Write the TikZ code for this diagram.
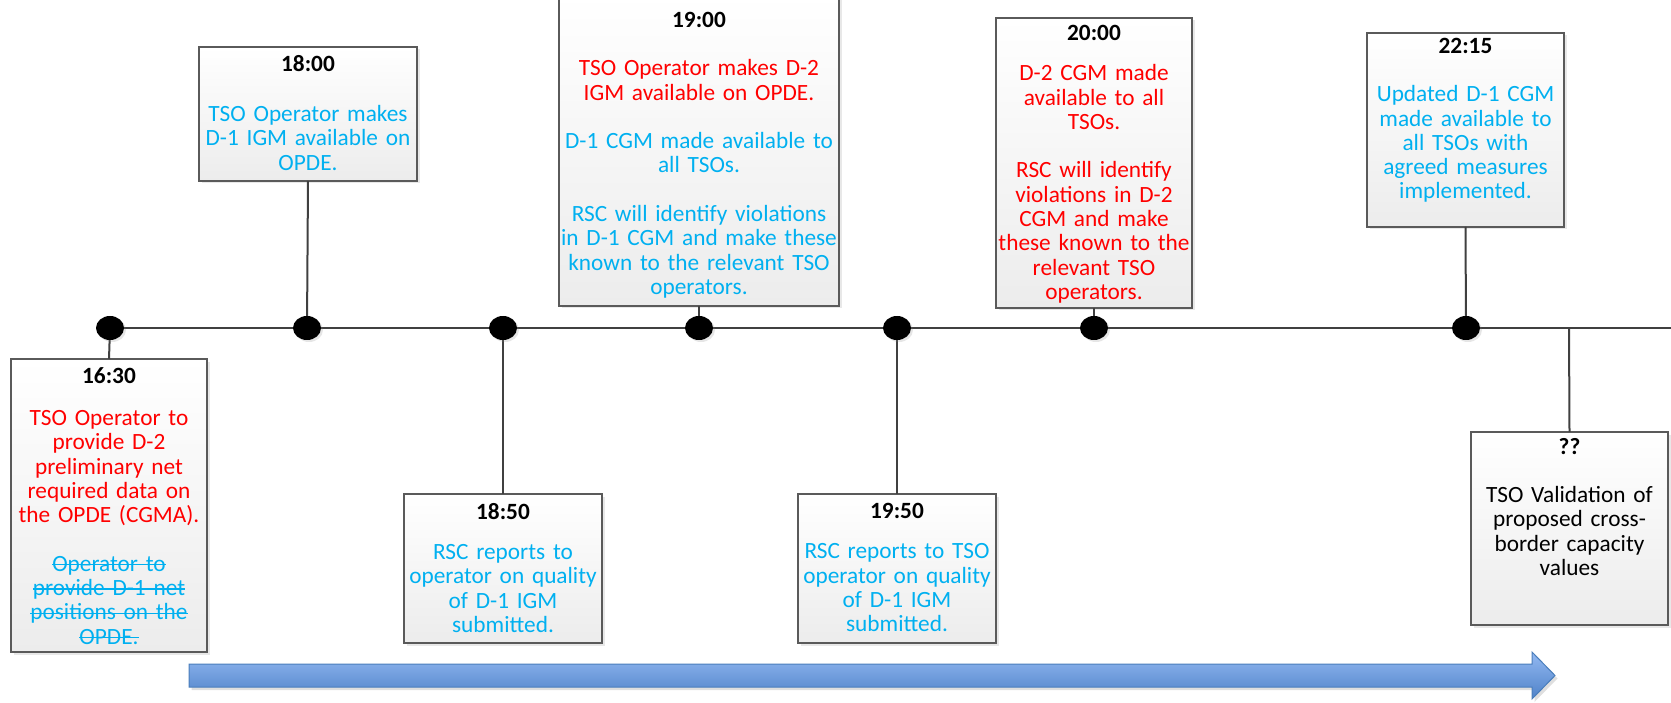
\documentclass[tikz,border=0pt]{standalone}
\usepackage{fontspec}
\setmainfont{Carlito}
\usetikzlibrary{shadows,shapes.geometric}
\definecolor{tsored}{HTML}{FF0000}
\definecolor{tsoblue}{HTML}{00B0F0}
\definecolor{linegray}{HTML}{404040}
\definecolor{boxline}{HTML}{5A5A5A}
\definecolor{boxbot}{HTML}{ECECEC}
\definecolor{arrtop}{HTML}{93B9F2}
\definecolor{arrbot}{HTML}{4F82C8}
\definecolor{arrline}{HTML}{4A7EBB}
\newsavebox\stkbox
\newcommand\stk[1]{\leavevmode\sbox\stkbox{#1}\rlap{\usebox\stkbox}\rule[0.25em]{\wd\stkbox}{1.3pt}}
\tikzset{
  evbox/.style={draw=boxline, line width=1.1pt, top color=white, bottom color=boxbot,
    inner sep=0pt, outer sep=0pt,
    drop shadow={opacity=0.18, shadow xshift=2.5pt, shadow yshift=-2.5pt}},
  evtext/.style={anchor=north, inner sep=0pt, align=center,
    font=\fontsize{23.3}{24.3}\selectfont},
  dot/.style={ellipse, fill=black, minimum width=28pt, minimum height=24pt, inner sep=0pt,
    drop shadow={opacity=0.2, shadow xshift=2pt, shadow yshift=-2pt}},
  conn/.style={draw=linegray, line width=2pt},
}
\begin{document}
\begin{tikzpicture}[x=1pt,y=-1pt]
\useasboundingbox (0,0) rectangle (1671,703);

% timeline positions
\coordinate (p1) at (110,328);
\coordinate (p2) at (307,328);
\coordinate (p3) at (503,328);
\coordinate (p4) at (699,328);
\coordinate (p5) at (897,328);
\coordinate (p6) at (1094,328);
\coordinate (p7) at (1466,328);
\coordinate (p8) at (1569,328);
\coordinate (lineend) at (1671,328);

% boxes
\node[evbox, minimum width=196pt, minimum height=293pt] (b1) at (109,505.5) {};
\node[evbox, minimum width=218pt, minimum height=134pt] (b2) at (308,114) {};
\node[evbox, minimum width=280pt, minimum height=312pt] (b3) at (699,150) {};
\node[evbox, minimum width=196pt, minimum height=290pt] (b4) at (1094,163) {};
\node[evbox, minimum width=197pt, minimum height=194pt] (b5) at (1465.5,130) {};
\node[evbox, minimum width=197pt, minimum height=193pt] (b6) at (1569.5,528.5) {};
\node[evbox, minimum width=198pt, minimum height=149pt] (b7) at (503,568.5) {};
\node[evbox, minimum width=198pt, minimum height=149pt] (b8) at (897,568.5) {};

% timeline and connectors
\draw[conn] (p1) -- (lineend);
\draw[conn] (p1) -- (b1.north);
\draw[conn] (p2) -- (b2.south);
\draw[conn] (p3) -- (b7.north);
\draw[conn] (p4) -- (b3.south);
\draw[conn] (p5) -- (b8.north);
\draw[conn] (p6) -- (b4.south);
\draw[conn] (p7) -- (b5.south);
\draw[conn] (p8) -- (b6.north);

% dots
\node[dot] (c1) at (p1) {};
\node[dot] (c2) at (p2) {};
\node[dot] (c3) at (p3) {};
\node[dot] (c4) at (p4) {};
\node[dot] (c5) at (p5) {};
\node[dot] (c6) at (p6) {};
\node[dot] (c7) at (p7) {};

% texts
\node[evtext, text width=230pt] (t1) at (109,367) {\textbf{16:30}\\[18pt]
  \color{tsored}TSO Operator to\\provide D-2\\preliminary net\\required data on\\the OPDE (CGMA).\\[24.3pt]
  \color{tsoblue}\stk{Operator to}\\\stk{provide D-1 net}\\\stk{positions on the}\\\stk{OPDE.}};
\node[evtext, text width=240pt] (t2) at (308,55) {\textbf{18:00}\\[26pt]
  \color{tsoblue}TSO Operator makes\\D-1 IGM available on\\OPDE.};
\node[evtext, text width=300pt] (t3) at (699,12) {\textbf{19:00}\\[24pt]
  \color{tsored}TSO Operator makes D-2\\IGM available on OPDE.\\[24.3pt]
  \color{tsoblue}D-1 CGM made available to\\all TSOs.\\[24.3pt]
  RSC will identify violations\\in D-1 CGM and make these\\known to the relevant TSO\\operators.};
\node[evtext, text width=230pt] (t4) at (1094,25) {\textbf{20:00}\\[16pt]
  \color{tsored}D-2 CGM made\\available to all\\TSOs.\\[24.3pt]
  RSC will identify\\violations in D-2\\CGM and make\\these known to the\\relevant TSO\\operators.};
\node[evtext, text width=230pt] (t5) at (1465.5,38) {\textbf{22:15}\\[24pt]
  \color{tsoblue}Updated D-1 CGM\\made available to\\all TSOs with\\agreed measures\\implemented.};
\node[evtext, text width=230pt] (t6) at (1569.5,438) {\textbf{??}\\[24pt]
  TSO Validation of\\proposed cross-\\border capacity\\values};
\node[evtext, text width=230pt] (t7) at (503,503) {\textbf{18:50}\\[16pt]
  \color{tsoblue}RSC reports to\\operator on quality\\of D-1 IGM\\submitted.};
\node[evtext, text width=230pt] (t8) at (897,503) {\textbf{19:50}\\[16pt]
  \color{tsoblue}RSC reports to TSO\\operator on quality\\of D-1 IGM\\submitted.};

% big arrow
\path[draw=arrline, line width=1pt, top color=arrtop, bottom color=arrbot,
  drop shadow={opacity=0.25, shadow xshift=2.5pt, shadow yshift=-3pt}]
  (189,664) -- (1532,664) -- (1532,652) -- (1555,675.5) -- (1532,699)
  -- (1532,687) -- (189,687) -- cycle;
\end{tikzpicture}
\end{document}
